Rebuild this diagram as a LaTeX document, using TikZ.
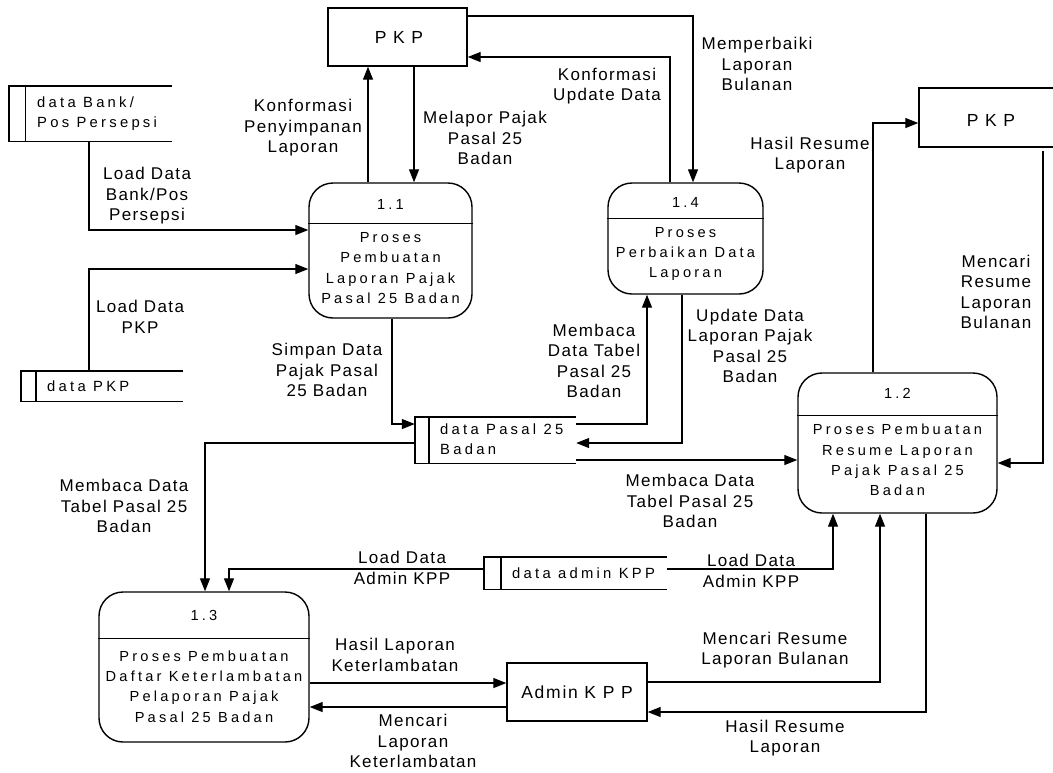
\documentclass[tikz,border=0pt]{standalone}
\usepackage{fontspec}
\setmainfont{Liberation Sans}
\newfontfamily\boxfont[LetterSpace=22]{Liberation Sans}
\newfontfamily\lblfont[LetterSpace=8]{Liberation Sans}
\newfontfamily\entfont[LetterSpace=10]{Liberation Sans}
\usetikzlibrary{arrows.meta,calc}
\begin{document}
\begin{tikzpicture}[x=1pt,y=-1pt,
 proc/.style={draw,line width=1.4pt,rounded corners=24pt,inner sep=0pt},
 ent/.style={draw,line width=1.4pt,inner sep=0pt},
 store/.style={inner sep=0pt},
 sline/.style={line width=1.4pt},
 flow/.style={line width=1.3pt,-{Triangle[length=13pt,width=10pt]}},
 lbl/.style={font=\lblfont\fontsize{17}{20.5}\selectfont,align=center,inner sep=0pt},
 etxt/.style={font=\entfont\fontsize{17.5}{20.5}\selectfont,inner sep=0pt},
 ptxt/.style={font=\boxfont\fontsize{14.6}{20.4}\selectfont,align=center,inner sep=0pt},
 stxt/.style={font=\boxfont\fontsize{14.8}{20}\selectfont,align=left,anchor=west,inner sep=0pt},
]
\useasboundingbox (0,0) rectangle (1053,772);

% ---------- helper coordinates (columns / rows) ----------
\coordinate (c89) at (89,0);
\coordinate (c205) at (205,0);
\coordinate (c229) at (229,0);
\coordinate (c368) at (368,0);
\coordinate (c392) at (392,0);
\coordinate (c414) at (414,0);
\coordinate (c647) at (647,0);
\coordinate (c670) at (670,0);
\coordinate (c682) at (682,0);
\coordinate (c693) at (693,0);
\coordinate (c833) at (833,0);
\coordinate (c873) at (873,0);
\coordinate (c880) at (880,0);
\coordinate (c926) at (926,0);
\coordinate (c1043) at (1043,0);
\coordinate (r16) at (0,16);
\coordinate (r57) at (0,57);
\coordinate (r123) at (0,123);
\coordinate (r230) at (0,230);
\coordinate (r269) at (0,269);
\coordinate (r424) at (0,424);
\coordinate (r443) at (0,443);
\coordinate (r460) at (0,460);
\coordinate (r463) at (0,463);
\coordinate (r569) at (0,569);
\coordinate (r682) at (0,682);
\coordinate (r683) at (0,683);
\coordinate (r707) at (0,707);
\coordinate (r712) at (0,712);

% ---------- external entities ----------
\node[ent,minimum width=139pt,minimum height=58pt] (pkp1) at (397.5,37) {};
\node[etxt] (pkp1t) at (399,37) {P K P};
\node[ent,minimum width=143pt,minimum height=59pt] (pkp2) at (990.5,117.5) {};
\node[etxt] (pkp2t) at (991,120) {P K P};
\node[ent,minimum width=140pt,minimum height=58pt] (adm) at (577,692) {};
\node[etxt] (admt) at (577,692) {Admin K P P};

% ---------- processes ----------
\node[proc,minimum width=163pt,minimum height=135pt] (p11) at (390.5,250.5) {};
\draw[sline] ([yshift=-41pt]p11.north west) -- ([yshift=-41pt]p11.north east);
\node[ptxt] (p11n) at (390.5,204) {1.1};
\node[ptxt] (p11t) at (390.5,268) {Proses\\Pembuatan\\Laporan Pajak\\Pasal 25 Badan};

\node[proc,minimum width=155pt,minimum height=111pt] (p14) at (685.5,238.5) {};
\draw[sline] ([yshift=-36pt]p14.north west) -- ([yshift=-36pt]p14.north east);
\node[ptxt] (p14n) at (685.5,202) {1.4};
\node[ptxt] (p14t) at (685.5,254) {Proses\\Perbaikan Data\\Laporan};

\node[proc,minimum width=199pt,minimum height=140pt] (p12) at (897.5,443) {};
\draw[sline] ([yshift=-43pt]p12.north west) -- ([yshift=-43pt]p12.north east);
\node[ptxt] (p12n) at (897.5,393) {1.2};
\node[ptxt] (p12t) at (897.5,460) {Proses Pembuatan\\Resume Laporan\\Pajak Pasal 25\\Badan};

\node[proc,minimum width=210pt,minimum height=150pt] (p13) at (204,667) {};
\draw[sline] ([yshift=-47pt]p13.north west) -- ([yshift=-47pt]p13.north east);
\node[ptxt] (p13n) at (204,615) {1.3};
\node[ptxt] (p13t) at (204,686.5) {Proses Pembuatan\\Daftar Keterlambatan\\Pelaporan Pajak\\Pasal 25 Badan};

% ---------- data stores ----------
\node[store,minimum width=163pt,minimum height=55pt] (sbank) at (90.5,113.5) {};
\draw[sline] (sbank.north east) -- (sbank.north west) -- (sbank.south west) -- (sbank.south east);
\draw[sline] ([xshift=16.5pt]sbank.north west) -- ([xshift=16.5pt]sbank.south west);
\node[stxt] (sbankt) at (37,114) {data Bank/\\Pos Persepsi};

\node[store,minimum width=162pt,minimum height=30pt] (spkp) at (102,386) {};
\draw[sline] (spkp.north east) -- (spkp.north west) -- (spkp.south west) -- (spkp.south east);
\draw[sline] ([xshift=15pt]spkp.north west) -- ([xshift=15pt]spkp.south west);
\node[stxt] (spkpt) at (47,386) {data PKP};

\node[store,minimum width=161pt,minimum height=46pt] (sp25) at (495.5,440) {};
\draw[sline] (sp25.north east) -- (sp25.north west) -- (sp25.south west) -- (sp25.south east);
\draw[sline] ([xshift=14pt]sp25.north west) -- ([xshift=14pt]sp25.south west);
\node[stxt] (sp25t) at (440,439) {data Pasal 25\\Badan};

\node[store,minimum width=183pt,minimum height=32pt] (sadm) at (575.5,573) {};
\draw[sline] (sadm.north east) -- (sadm.north west) -- (sadm.south west) -- (sadm.south east);
\draw[sline] ([xshift=17pt]sadm.north west) -- ([xshift=17pt]sadm.south west);
\node[stxt] (sadmt) at (512,573) {data admin KPP};

% ---------- flows ----------
\coordinate (t13) at ($(pkp2.south -| c1043)+(0,3)$);
\draw[flow] (pkp1.south -| c414) -- (p11.north -| c414);
\draw[flow] (p11.north -| c368) -- (pkp1.south -| c368);
\draw[flow] (sbank.south -| c89) |- (p11.west |- r230);
\draw[flow] (spkp.north -| c89) |- (p11.west |- r269);
\draw[flow] (p11.south -| c392) |- (sp25.west |- r424);
\draw[flow] (sp25.west |- r443) -| (p13.north -| c205);
\draw[flow] (sp25.east |- r424) -| (p14.south -| c647);
\draw[flow] (p14.south -| c682) |- (sp25.east |- r443);
\draw[flow] (sp25.east |- r460) -- (p12.west |- r460);
\draw[flow] (pkp1.east |- r16) -| (p14.north -| c693);
\draw[flow] (p14.north -| c670) |- (pkp1.east |- r57);
\draw[flow] (p12.north -| c873) |- (pkp2.west |- r123);
\draw[flow] (t13) |- (p12.east |- r463);
\draw[flow] (sadm.west |- r569) -| (p13.north -| c229);
\draw[flow] (sadm.east |- r569) -| (p12.south -| c833);
\draw[flow] (p13.east |- r683) -- (adm.west |- r683);
\draw[flow] (adm.west |- r707) -- (p13.east |- r707);
\draw[flow] (adm.east |- r682) -| (p12.south -| c880);
\draw[flow] (p12.south -| c926) |- (adm.east |- r712);

% ---------- labels ----------
\node[lbl] (l1) at (485,138) {Melapor Pajak\\Pasal 25\\Badan};
\node[lbl] (l2) at (303,128) {Konformasi\\Penyimpanan\\Laporan};
\node[lbl] (l3) at (147,196) {Load Data\\Bank/Pos\\Persepsi};
\node[lbl] (l4) at (140,317) {Load Data\\PKP};
\node[lbl] (l5) at (327,370) {Simpan Data\\Pajak Pasal\\25 Badan};
\node[lbl] (l6) at (124,506) {Membaca Data\\Tabel Pasal 25\\Badan};
\node[lbl] (l7) at (594,361) {Membaca\\Data Tabel\\Pasal 25\\Badan};
\node[lbl] (l8) at (750,346) {Update Data\\Laporan Pajak\\Pasal 25\\Badan};
\node[lbl] (l9) at (690,501) {Membaca Data\\Tabel Pasal 25\\Badan};
\node[lbl] (l10) at (757,64) {Memperbaiki\\Laporan\\Bulanan};
\node[lbl] (l11) at (607,86) {Konformasi\\Update Data};
\node[lbl] (l12) at (810,155) {Hasil Resume\\Laporan};
\node[lbl] (l13) at (996,292) {Mencari\\Resume\\Laporan\\Bulanan};
\node[lbl] (l14) at (402,568) {Load Data\\Admin KPP};
\node[lbl] (l15) at (751,571) {Load Data\\Admin KPP};
\node[lbl] (l16) at (395,655) {Hasil Laporan\\Keterlambatan};
\node[lbl] (l17) at (413,741) {Mencari\\Laporan\\Keterlambatan};
\node[lbl] (l18) at (775,650) {Mencari Resume\\Laporan Bulanan};
\node[lbl] (l19) at (785,738) {Hasil Resume\\Laporan};
\end{tikzpicture}
\end{document}
